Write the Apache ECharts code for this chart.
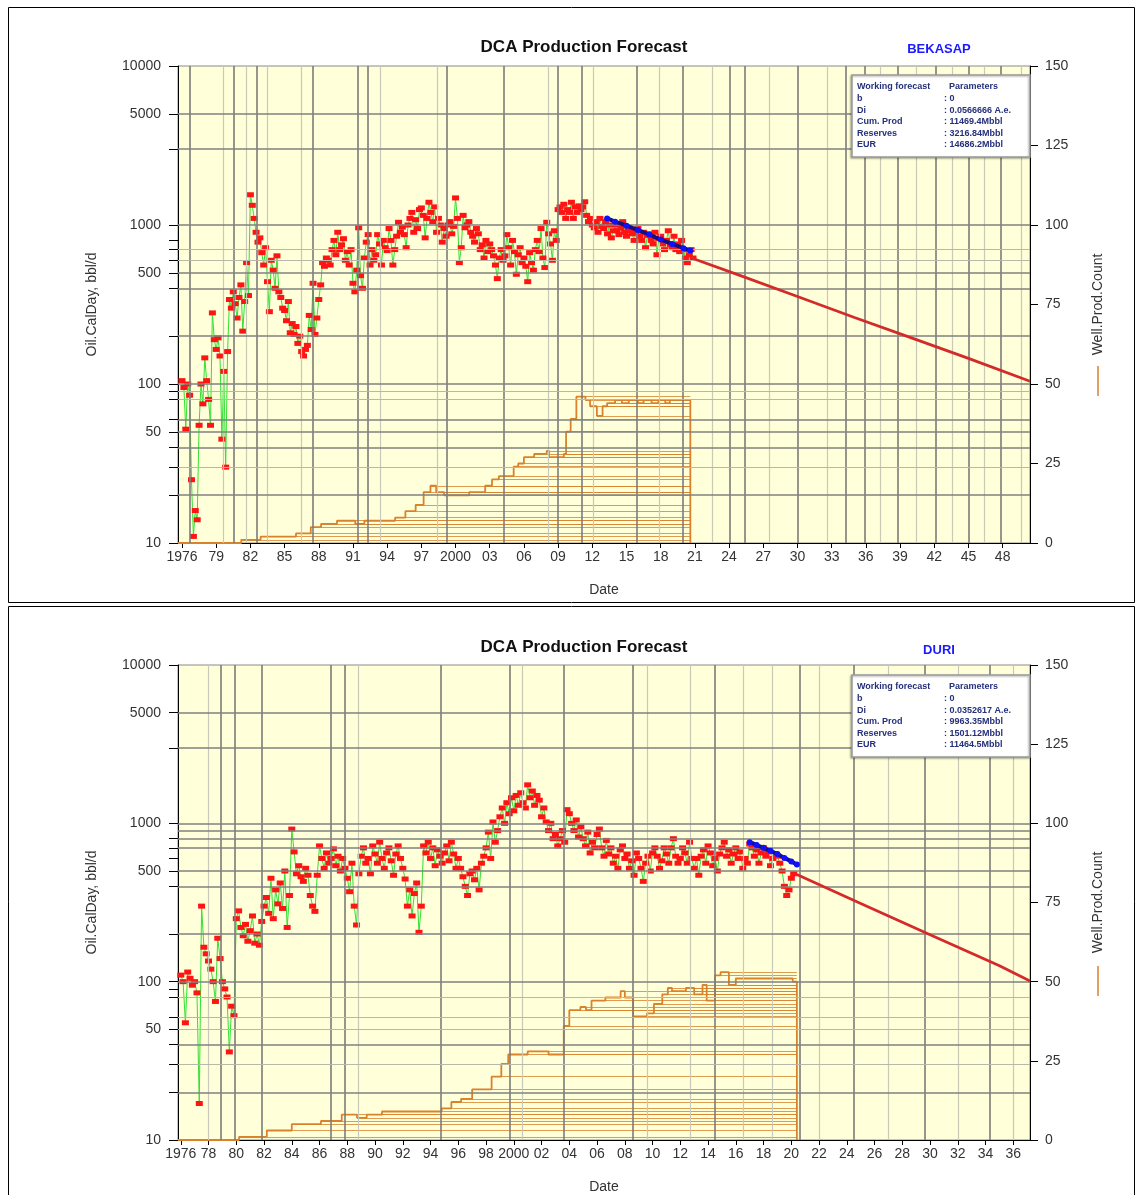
<!DOCTYPE html>
<html><head><meta charset="utf-8">
<script src="https://cdn.jsdelivr.net/npm/echarts@6/dist/echarts.min.js"></script>
<style>html,body{margin:0;padding:0;background:#fff}#c{width:1136px;height:1195px}</style>
</head><body><div id="c"></div><script>
// ---------------- DATA ----------------
const topTickYears = [1976,1979,1982,1985,1988,1991,1994,1997,2000,2003,2006,2009,2012,2015,2018,2021,2024,2027,2030,2033,2036,2039,2042,2045,2048];
const topTickLabels = ["1976","79","82","85","88","91","94","97","2000","03","06","09","12","15","18","21","24","27","30","33","36","39","42","45","48"];
const botTickYears = [1976,1978,1980,1982,1984,1986,1988,1990,1992,1994,1996,1998,2000,2002,2004,2006,2008,2010,2012,2014,2016,2018,2020,2022,2024,2026,2028,2030,2032,2034,2036];
const botTickLabels = ["1976","78","80","82","84","86","88","90","92","94","96","98","2000","02","04","06","08","10","12","14","16","18","20","22","24","26","28","30","32","34","36"];
const oilLabelValues = [10,50,100,500,1000,5000,10000];
const oilTickValues = [10,20,30,40,50,60,80,90,100,200,400,500,600,700,800,1000,3000,5000,10000];

// BEKASAP oil rate, bbl/d, six readings per year from 1976.0
const topOilStart = 1976.0;
const topOil = [
105,95,52,100,85,25,
11,16,14,55,100,75,
146,105,80,55,280,190,
165,195,150,45,120,30,
160,340,300,380,320,260,
350,420,215,330,580,360,
1550,1330,1100,900,780,830,
670,560,720,440,285,600,
520,400,640,380,350,300,
290,250,330,210,240,205,
230,180,200,160,150,165,
175,270,220,430,205,260,
340,420,580,550,620,600,
560,700,800,650,900,700,
750,820,600,680,560,700,
430,380,520,960,480,400,
620,780,870,560,700,600,
650,870,760,560,800,720,
690,950,800,560,700,850,
1040,900,970,870,720,1000,
1100,1200,900,1080,950,1250,
1280,1150,830,1100,1390,1200,
1050,1300,900,1100,1000,780,
950,850,1000,1050,880,980,
1480,1100,580,720,1150,960,
1000,1050,900,850,780,950,
880,700,750,620,800,680,
760,700,640,560,460,620,
700,600,640,870,720,560,
800,680,490,650,720,580,
620,550,440,670,580,520,
700,800,680,950,620,540,
1040,880,760,600,920,800,
1250,1300,1200,1350,1100,1250,
1200,1390,1100,1300,1200,1320,
1250,1300,1400,1150,1050,1100,
1000,960,1050,900,1100,980,
950,1050,880,1000,830,920,
1000,920,870,960,1050,900,
850,950,920,880,800,900,
950,850,800,900,720,860,
880,800,760,900,650,820,
850,760,700,800,920,750,
720,850,700,760,680,800,
700,620,580,650,700,620
];
const topFitYears = [2013.3,2014,2015,2016,2017,2018,2019,2020,2020.6];
const topFit = [1100,1050,990,930,870,810,760,715,690];
const topFcstYears = [2020.7,2025,2030,2035,2040,2045,2050.4];
const topFcst = [620,480,355,262,195,145,104];
const topWellYears = [1975.65,1981.2,1982.9,1986.0,1987.3,1988.2,1989.6,1991.2,1992.0,1994.7,1995.6,1996.5,1997.2,1997.8,1998.3,1999.0,2001.2,2002.6,2003.2,2003.8,2005.1,2005.5,2006.0,2006.9,2008.0,2008.2,2009.5,2009.7,2010.1,2010.6,2011.4,2011.8,2012.4,2012.9,2013.3,2014.0,2014.6,2015.2,2016.0,2016.5,2017.2,2017.8,2018.4,2018.8,2020.6];
const topWells = [0,1,2,3,5,6,7,6,7,8,10,12,16,18,16,15,16,18,20,21,24,25,27,28,29,27,28,35,39,46,45,43,40,43,44,45,44,45,44,45,44,45,44,45,0];

// DURI oil rate, bbl/d, six readings per year from 1976.0
const botOilStart = 1976.0;
const botOil = [
110,100,55,115,105,95,
100,85,17,300,165,150,
135,120,100,75,188,140,
100,90,80,36,70,61,
250,280,220,195,230,180,
210,260,175,200,170,240,
300,340,270,450,250,380,
310,420,290,500,220,350,
920,660,480,540,460,430,
520,470,350,300,278,470,
720,600,520,650,560,600,
690,540,620,500,600,520,
450,370,560,300,228,480,
620,700,560,600,480,720,
640,560,760,600,520,650,
700,580,470,640,720,600,
520,445,300,380,260,360,
420,205,300,720,650,760,
600,700,540,680,620,560,
650,720,580,760,640,520,
600,520,460,400,350,480,
500,440,520,380,560,620,
700,880,600,1020,760,900,
1100,1250,1000,1350,1150,1450,
1200,1500,1300,1560,1350,1250,
1750,1450,1600,1300,1500,1400,
1100,1250,1020,900,1000,800,
850,720,800,900,760,1220,
1150,1000,900,1050,820,950,
800,720,880,650,760,700,
850,920,700,620,780,640,
700,560,620,520,680,720,
600,640,520,580,470,650,
600,520,430,560,620,500,
650,700,620,520,580,700,
640,560,700,800,620,560,
600,700,650,560,760,600,
520,600,470,620,680,560,
720,650,540,600,500,640,
700,760,620,680,560,640,
700,600,660,520,600,560,
740,700,620,680,560,650,
700,620,660,540,600,640,
620,560,500,400,350,380,
450,480
];
const botFitYears = [2017.0,2017.5,2018,2018.5,2019,2019.5,2020,2020.4];
const botFit = [760,730,700,670,640,605,575,550];
const botFcstYears = [2020.4,2025,2030,2035,2037.2];
const botFcst = [475,312,198,126,101];
const botWellYears = [1975.8,1980.2,1982.2,1984.0,1986.1,1987.6,1988.7,1989.4,1990.5,1994.8,1995.5,1996.2,1997.0,1998.4,1999.1,1999.6,2001.0,2002.5,2003.6,2004.0,2004.8,2005.2,2005.6,2006.6,2007.7,2008.0,2008.6,2009.6,2010.1,2010.7,2011.1,2011.4,2012.4,2013.0,2013.6,2013.9,2014.5,2014.9,2015.5,2016.0,2020.1,2020.4];
const botWells = [0,1,3,5,6,8,7,8,9,10,12,13,16,20,24,27,28,27,36,41,42,41,44,45,47,45,39,40,43,46,48,47,48,46,49,44,52,53,49,51,50,0];

// grid line positions (years / bbl/d)
const topDarkV = [1976.7,1980.5,1982.6,1987.5,1991.4,1992.3,1999.2,2004.2,2009.0,2011.1,2015.9,2019.9,2024.1,2025.4,2030.0,2034.2,2035.9,2038.8,2042.1,2045.0,2047.8];
const topLightV = [1979.6,1981.6,1983.5,1986.5,1993.4,1998.4,2008.1,2012.1,2017.9,2022.5,2027.5,2032.6,2037.3,2040.4,2043.6,2046.4,2049.6];
const botDarkV = [1978.9,1979.9,1981.8,1986.8,1987.8,1994.7,1999.7,2003.6,2008.6,2014.5,2020.6,2024.5,2029.6,2034.3];
const botLightV = [1978.0,1988.8,2000.6,2009.6,2012.7,2016.5,2018.6,2022.0,2027.0,2032.0,2036.0];
const topDarkH = [5000,3000,1000,500,400,200,100,60,50,40,20];
const topLightH = [700,600,90,80,30];
const botDarkH = [5000,3000,1000,900,800,700,500,400,200,100,40,20];
const botLightH = [80,60,50,30];

const topParamLabels = ['Working forecast','b','Di','Cum. Prod','Reserves','EUR'];
const topParamValues = ['Parameters',': 0',': 0.0566666 A.e.',': 11469.4Mbbl',': 3216.84Mbbl',': 14686.2Mbbl'];
const botParamLabels = ['Working forecast','b','Di','Cum. Prod','Reserves','EUR'];
const botParamValues = ['Parameters',': 0',': 0.0352617 A.e.',': 9963.35Mbbl',': 1501.12Mbbl',': 11464.5Mbbl'];

// ---------------- BUILD ----------------
const FONT = '"Liberation Sans", Arial, Helvetica, sans-serif';
const ORANGE = '#d9822b';
const pairs = (xs, ys) => xs.map((x, i) => [x, ys[i]]);
const oilPairs = (start, vals) => vals.map((v, i) => [start + i / 6, v]);
const hatch = (xs, ys) => { const end = xs[xs.length - 1]; const out = []; for (let i = 0; i < xs.length - 1; i++) if (ys[i] > 0) out.push({ coords: [[xs[i], ys[i]], [end, ys[i]]] }); return out; };

const grids = [], xAxes = [], yAxes = [], series = [];
function panel(k, cfg) {
  grids.push({ left: 178, width: 852, top: cfg.top, height: cfg.height, show: true, backgroundColor: '#FFFFDA', borderColor: '#8a8a8a', borderWidth: 1 });
  xAxes.push({
    type: 'value', gridIndex: k, min: cfg.xmin, max: cfg.xmax,
    axisLine: { show: true, onZero: false, lineStyle: { color: '#000', width: 1 } },
    axisTick: { show: true, length: 5, customValues: cfg.ticks, lineStyle: { color: '#000' } },
    axisLabel: { customValues: cfg.ticks, interval: 0, hideOverlap: false, margin: 7, fontSize: 14, color: '#333', fontFamily: FONT,
      formatter: v => { const i = cfg.ticks.indexOf(Math.round(v)); return i >= 0 ? cfg.labels[i] : ''; } },
    splitLine: { show: false },
    name: 'Date', nameLocation: 'middle', nameGap: 40, nameTextStyle: { fontSize: 14, color: '#333', fontFamily: FONT }
  });
  yAxes.push({
    type: 'log', logBase: 10, gridIndex: k, min: 10, max: 10000, position: 'left',
    axisLine: { show: true, lineStyle: { color: '#000', width: 1 } },
    axisTick: { show: true, length: 9, customValues: oilTickValues, lineStyle: { color: '#000' } },
    axisLabel: { customValues: oilLabelValues, margin: 17, fontSize: 14, color: '#333', fontFamily: FONT,
      formatter: v => String(Math.round(v)) },
    splitLine: { show: false }, minorTick: { show: false },
    name: 'Oil.CalDay, bbl/d', nameLocation: 'middle', nameGap: 79, nameRotate: 90,
    nameTextStyle: { fontSize: 14, color: '#333', fontFamily: FONT }
  });
  yAxes.push({
    type: 'value', gridIndex: k, min: 0, max: 150, interval: 25, position: 'right',
    axisLine: { show: true, lineStyle: { color: '#000', width: 1 } },
    axisTick: { show: true, length: 8, lineStyle: { color: '#000' } },
    axisLabel: { margin: 15, fontSize: 14, color: '#333', fontFamily: FONT },
    splitLine: { show: false },
    name: 'Well.Prod.Count', nameLocation: 'middle', nameGap: 61, nameRotate: 90,
    nameTextStyle: { fontSize: 14, color: '#333', fontFamily: FONT }
  });
  const li = 2 * k, ri = 2 * k + 1;
  const ml = [];
  cfg.lightV.forEach(v => ml.push({ xAxis: v, lineStyle: { color: '#c9c9b8', width: 1.2, type: 'solid' } }));
  cfg.darkV.forEach(v => ml.push({ xAxis: v, lineStyle: { color: '#7c7c78', width: 1.6, type: 'solid' } }));
  cfg.lightH.forEach(v => ml.push({ yAxis: v, lineStyle: { color: '#b8b8a8', width: 1.2, type: 'solid' } }));
  cfg.darkH.forEach(v => ml.push({ yAxis: v, lineStyle: { color: '#808080', width: 1.6, type: 'solid' } }));
  series.push({ type: 'line', xAxisIndex: k, yAxisIndex: li, data: [[cfg.xmin, 10]], symbol: 'none', lineStyle: { width: 0 }, silent: true, z: 1,
    markLine: { silent: true, symbol: ['none', 'none'], label: { show: false }, animation: false, data: ml } });
  series.push({ type: 'lines', coordinateSystem: 'cartesian2d', xAxisIndex: k, yAxisIndex: ri, silent: true, z: 2,
    lineStyle: { color: ORANGE, width: 1.2, opacity: 0.8 }, data: hatch(cfg.wellX, cfg.wells) });
  series.push({ type: 'line', step: 'end', xAxisIndex: k, yAxisIndex: ri, data: pairs(cfg.wellX, cfg.wells), symbol: 'none', silent: true, z: 3,
    lineStyle: { color: ORANGE, width: 1.8 } });
  series.push({ type: 'line', xAxisIndex: k, yAxisIndex: li, data: oilPairs(cfg.oilStart, cfg.oil), symbol: 'rect', symbolSize: [7, 5], silent: true, z: 4,
    itemStyle: { color: '#ff1414' }, lineStyle: { color: '#33e033', width: 1 } });
  series.push({ type: 'line', xAxisIndex: k, yAxisIndex: li, data: pairs(cfg.fitX, cfg.fit), symbol: 'circle', symbolSize: 6, silent: true, z: 5,
    itemStyle: { color: '#1010ff' }, lineStyle: { color: '#101080', width: 4 } });
  series.push({ type: 'line', xAxisIndex: k, yAxisIndex: li, data: pairs(cfg.fcstX, cfg.fcst), symbol: 'none', silent: true, z: 5,
    lineStyle: { color: '#d42a2a', width: 2.8 } });
}
panel(0, { top: 66, height: 477, xmin: 1975.65, xmax: 2050.4, ticks: topTickYears, labels: topTickLabels,
  oilStart: topOilStart, oil: topOil, fitX: topFitYears, fit: topFit, fcstX: topFcstYears, fcst: topFcst, wellX: topWellYears, wells: topWells,
  darkV: topDarkV, lightV: topLightV, darkH: topDarkH, lightH: topLightH });
panel(1, { top: 665, height: 478, xmin: 1975.8, xmax: 2037.2, ticks: botTickYears, labels: botTickLabels,
  oilStart: botOilStart, oil: botOil, fitX: botFitYears, fit: botFit, fcstX: botFcstYears, fcst: botFcst, wellX: botWellYears, wells: botWells,
  darkV: botDarkV, lightV: botLightV, darkH: botDarkH, lightH: botLightH });

function paramBox(x0, y0, labels, values) {
  const out = [{ type: 'rect', z: 100, zlevel: 1, silent: true, shape: { x: x0, y: y0, width: 178, height: 82 }, style: { fill: '#fff', stroke: '#9a9a9a', lineWidth: 1.5, shadowBlur: 2, shadowColor: 'rgba(0,0,0,0.3)', shadowOffsetX: -1, shadowOffsetY: 1 } }];
  labels.forEach((t, i) => {
    const y = y0 + 12 + i * 11.6;
    out.push({ type: 'text', z: 101, zlevel: 1, silent: true, x: x0 + 5, y: y, style: { text: t, fill: '#25307a', font: 'bold 9px ' + FONT, textVerticalAlign: 'middle' } });
    out.push({ type: 'text', z: 101, zlevel: 1, silent: true, x: x0 + (i === 0 ? 97 : 92), y: y, style: { text: values[i], fill: '#25307a', font: 'bold 9px ' + FONT, textVerticalAlign: 'middle' } });
  });
  return out;
}
const graphic = [
  { type: 'rect', shape: { x: 8.5, y: 7.5, width: 1126, height: 595 }, style: { fill: 'none', stroke: '#000', lineWidth: 1 }, silent: true },
  { type: 'rect', shape: { x: 8.5, y: 606.5, width: 1126, height: 600 }, style: { fill: 'none', stroke: '#000', lineWidth: 1 }, silent: true },
  { type: 'text', x: 584, y: 47, style: { text: 'DCA Production Forecast', font: 'bold 17px ' + FONT, fill: '#111', textAlign: 'center', textVerticalAlign: 'middle' } },
  { type: 'text', x: 584, y: 647, style: { text: 'DCA Production Forecast', font: 'bold 17px ' + FONT, fill: '#111', textAlign: 'center', textVerticalAlign: 'middle' } },
  { type: 'text', x: 939, y: 49, style: { text: 'BEKASAP', font: 'bold 13px ' + FONT, fill: '#1a1aff', textAlign: 'center', textVerticalAlign: 'middle' } },
  { type: 'text', x: 939, y: 650, style: { text: 'DURI', font: 'bold 13px ' + FONT, fill: '#1a1aff', textAlign: 'center', textVerticalAlign: 'middle' } },
  { type: 'line', shape: { x1: 1098, y1: 366, x2: 1098, y2: 396 }, style: { stroke: ORANGE, lineWidth: 1.5 } },
  { type: 'line', shape: { x1: 1098, y1: 966, x2: 1098, y2: 996 }, style: { stroke: ORANGE, lineWidth: 1.5 } }
].concat(paramBox(852, 75, topParamLabels, topParamValues), paramBox(852, 675, botParamLabels, botParamValues));

const chart = echarts.init(document.getElementById('c'), null, { renderer: 'canvas' });
chart.setOption({ animation: false, backgroundColor: '#fff', grid: grids, xAxis: xAxes, yAxis: yAxes, series: series, graphic: graphic });
</script></body></html>
